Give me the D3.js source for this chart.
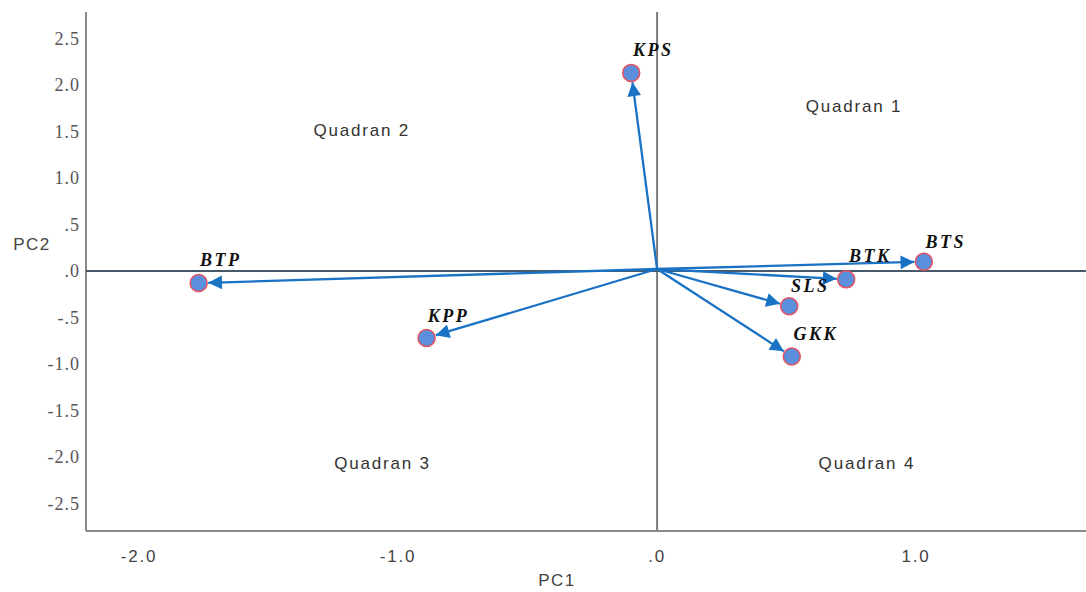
<!DOCTYPE html>
<html>
<head>
<meta charset="UTF-8">
<script src="https://d3js.org/d3.v7.min.js"></script>
<style>
  body { margin: 0; background: #fff; }
  .ytick text { font-family: "Liberation Serif", "DejaVu Serif", serif; font-size: 18px; fill: #555; letter-spacing: 1px; }
  .xtick text { font-family: "Liberation Sans", Arial, sans-serif; font-size: 17px; fill: #444; letter-spacing: 1.8px; }
  .quad { font-family: "Liberation Sans", Arial, sans-serif; font-size: 17px; fill: #333; letter-spacing: 1.8px; }
  .axis-title { font-family: "Liberation Sans", Arial, sans-serif; font-size: 17px; fill: #444; letter-spacing: 1.5px; }
  .var-label { font-family: "Liberation Serif", "DejaVu Serif", serif; font-style: italic; font-weight: bold; font-size: 18px; fill: #111; letter-spacing: 2.5px; }
</style>
</head>
<body>
<svg id="chart" width="1086" height="592"></svg>
<script>
// loadings (PC1, PC2)
const names = ["KPS", "BTP", "KPP", "BTS", "BTK", "SLS", "GKK"];
const pc1 = [-0.10, -1.77, -0.89, 1.03, 0.73, 0.51, 0.52];
const pc2 = [2.13, -0.13, -0.72, 0.10, -0.09, -0.38, -0.92];
const labelDx = [22, 22, 22, 22, 24, 21, 24];
const labelDy = [-23, -23, -22, -20, -24, -21, -23];

const xTicks = [-2.0, -1.0, 0.0, 1.0];
const yTicks = [2.5, 2.0, 1.5, 1.0, 0.5, 0.0, -0.5, -1.0, -1.5, -2.0, -2.5];
const quadrants = [
  { text: "Quadran 1", x: 0.76, y: 1.77 },
  { text: "Quadran 2", x: -1.14, y: 1.52 },
  { text: "Quadran 3", x: -1.06, y: -2.06 },
  { text: "Quadran 4", x: 0.81, y: -2.06 }
];

const margin = { left: 86, right: 0, top: 12, bottom: 61 };
const W = 1086, H = 592;

const x = d3.scaleLinear().domain([-2.205, 1.656]).range([margin.left, W - margin.right]);
const y = d3.scaleLinear().domain([-2.796, 2.785]).range([H - margin.bottom, margin.top]);

const svg = d3.select("#chart");

const fmt = v => {
  if (v === 0) return ".0";
  const s = v.toFixed(1);
  return s.replace(/^(-?)0\./, "$1.");
};

// frame lines
svg.append("line")
  .attr("x1", x.range()[0]).attr("x2", x.range()[0])
  .attr("y1", y.range()[1]).attr("y2", y.range()[0])
  .attr("stroke", "#8a8a8a").attr("stroke-width", 2);
svg.append("line")
  .attr("x1", x.range()[0]).attr("x2", x.range()[1])
  .attr("y1", y.range()[0]).attr("y2", y.range()[0])
  .attr("stroke", "#8a8a8a").attr("stroke-width", 2);

// zero lines
svg.append("line")
  .attr("x1", x(0)).attr("x2", x(0))
  .attr("y1", y.range()[1]).attr("y2", y.range()[0])
  .attr("stroke", "#7a7a7a").attr("stroke-width", 2);
svg.append("line")
  .attr("x1", x.range()[0]).attr("x2", x.range()[1])
  .attr("y1", y(0)).attr("y2", y(0))
  .attr("stroke", "#475a6c").attr("stroke-width", 2);

// tick labels
svg.append("g").attr("class", "ytick")
  .selectAll("text").data(yTicks).enter().append("text")
  .attr("x", 80).attr("y", d => y(d))
  .attr("dy", "0.35em").attr("text-anchor", "end")
  .text(fmt);

svg.append("g").attr("class", "xtick")
  .selectAll("text").data(xTicks).enter().append("text")
  .attr("x", d => x(d)).attr("y", 556)
  .attr("dy", "0.35em").attr("text-anchor", "middle")
  .text(fmt);

svg.append("text").attr("class", "axis-title")
  .attr("x", 557).attr("y", 586).attr("text-anchor", "middle").text("PC1");
svg.append("text").attr("class", "axis-title")
  .attr("x", 32).attr("y", 250).attr("text-anchor", "middle").text("PC2");

// quadrant labels
svg.selectAll(".quad").data(quadrants).enter().append("text")
  .attr("class", "quad")
  .attr("x", d => x(d.x)).attr("y", d => y(d.y))
  .attr("dy", "0.35em").attr("text-anchor", "middle")
  .text(d => d.text);

// arrowhead
svg.append("defs").append("marker")
  .attr("id", "arrow")
  .attr("viewBox", "0 0 10 10")
  .attr("refX", 10).attr("refY", 5)
  .attr("markerWidth", 6.5).attr("markerHeight", 6)
  .attr("markerUnits", "strokeWidth")
  .attr("orient", "auto")
  .append("path").attr("d", "M0,0 L10,5 L0,10 z").attr("fill", "#1a72c4");

const data = names.map((n, i) => ({ name: n, x: pc1[i], y: pc2[i], dx: labelDx[i], dy: labelDy[i] }));
const r = 8.5;

// points
svg.selectAll(".pt").data(data).enter().append("circle")
  .attr("class", "pt")
  .attr("cx", d => x(d.x)).attr("cy", d => y(d.y))
  .attr("r", r)
  .attr("fill", "#5b8fdc")
  .attr("stroke", "#e8505e").attr("stroke-width", 1.5);

// arrows from origin to point edge
const ox = x(0), oy = y(0) - 2;
svg.selectAll(".arr").data(data).enter().append("line")
  .attr("class", "arr")
  .attr("x1", ox).attr("y1", oy)
  .attr("x2", d => {
    const px = x(d.x), py = y(d.y);
    const len = Math.hypot(px - ox, py - oy);
    return px - (px - ox) / len * (r + 1);
  })
  .attr("y2", d => {
    const px = x(d.x), py = y(d.y);
    const len = Math.hypot(px - ox, py - oy);
    return py - (py - oy) / len * (r + 1);
  })
  .attr("stroke", "#1a72c4").attr("stroke-width", 2.3)
  .attr("marker-end", "url(#arrow)");

// variable labels
svg.selectAll(".var-label").data(data).enter().append("text")
  .attr("class", "var-label")
  .attr("x", d => x(d.x) + d.dx).attr("y", d => y(d.y) + d.dy)
  .attr("dy", "0.35em").attr("text-anchor", "middle")
  .text(d => d.name);
</script>
</body>
</html>
